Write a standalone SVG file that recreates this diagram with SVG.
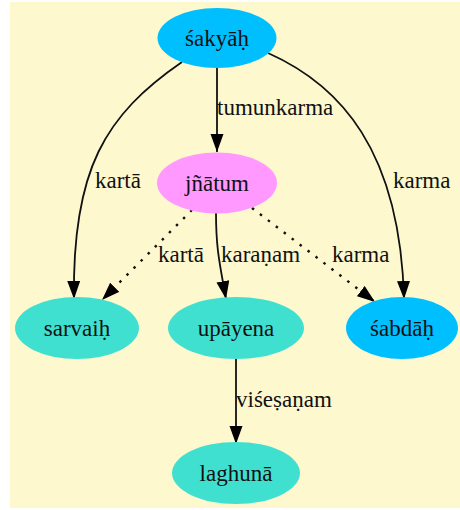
<svg xmlns="http://www.w3.org/2000/svg" width="460" height="510" viewBox="0 0 460 510">
<style>
  text { font-family: "Liberation Serif", "Times New Roman", serif; font-size: 23px; fill: #111; }
  .nl { text-anchor: middle; }
  .e { fill: none; stroke: #111; stroke-width: 1.8; }
  .dot { stroke-width: 2.4; stroke-dasharray: 2.5 7.5; }
</style>
<defs>
  <marker id="ah" markerUnits="userSpaceOnUse" markerWidth="19" markerHeight="14" refX="18" refY="6.5" orient="auto">
    <path d="M0,0 L18,6.5 L0,13 z" fill="#000"/>
  </marker>
</defs>
<rect x="10" y="2" width="450" height="506" fill="#fef8ce"/>
<g id="edges">
  <g id="e1"><path class="e" d="M217,68 L217,152" marker-end="url(#ah)"/><text x="217" y="115">tumunkarma</text></g>
  <g id="e2"><path class="e" d="M182,62 C105,115 72,170 74,299" marker-end="url(#ah)"/><text x="95" y="188">kartā</text></g>
  <g id="e3"><path class="e" d="M268,53 C340,85 400,150 404,299" marker-end="url(#ah)"/><text x="393" y="188">karma</text></g>
  <g id="e4"><path class="e dot" d="M192,210 L102,300" marker-end="url(#ah)"/><text x="158" y="262">kartā</text></g>
  <g id="e5"><path class="e" d="M216,213 C216,250 220,265 226,299" marker-end="url(#ah)"/><text x="221" y="262">karaṇam</text></g>
  <g id="e6"><path class="e dot" d="M252,208 L375,302" marker-end="url(#ah)"/><text x="332" y="262">karma</text></g>
  <g id="e7"><path class="e" d="M236,359 L236,444" marker-end="url(#ah)"/><text x="236" y="407">viśeṣaṇam</text></g>
</g>
<g id="n_sakyah"><ellipse cx="217" cy="38" rx="59.5" ry="30" fill="#00bfff"/><text class="nl" x="217" y="46">śakyāḥ</text></g>
<g id="n_jnatum"><ellipse cx="217" cy="183" rx="60" ry="30.5" fill="#ff99ff"/><text class="nl" x="217" y="191">jñātum</text></g>
<g id="n_sarvaih"><ellipse cx="77" cy="328" rx="62" ry="31" fill="#40e0d0"/><text class="nl" x="77" y="336">sarvaiḥ</text></g>
<g id="n_upayena"><ellipse cx="236" cy="328" rx="68" ry="31" fill="#40e0d0"/><text class="nl" x="236" y="336">upāyena</text></g>
<g id="n_sabdah"><ellipse cx="402" cy="328" rx="56" ry="31" fill="#00bfff"/><text class="nl" x="402" y="336">śabdāḥ</text></g>
<g id="n_laghuna"><ellipse cx="236" cy="473" rx="64" ry="31" fill="#40e0d0"/><text class="nl" x="236" y="481">laghunā</text></g>
</svg>
